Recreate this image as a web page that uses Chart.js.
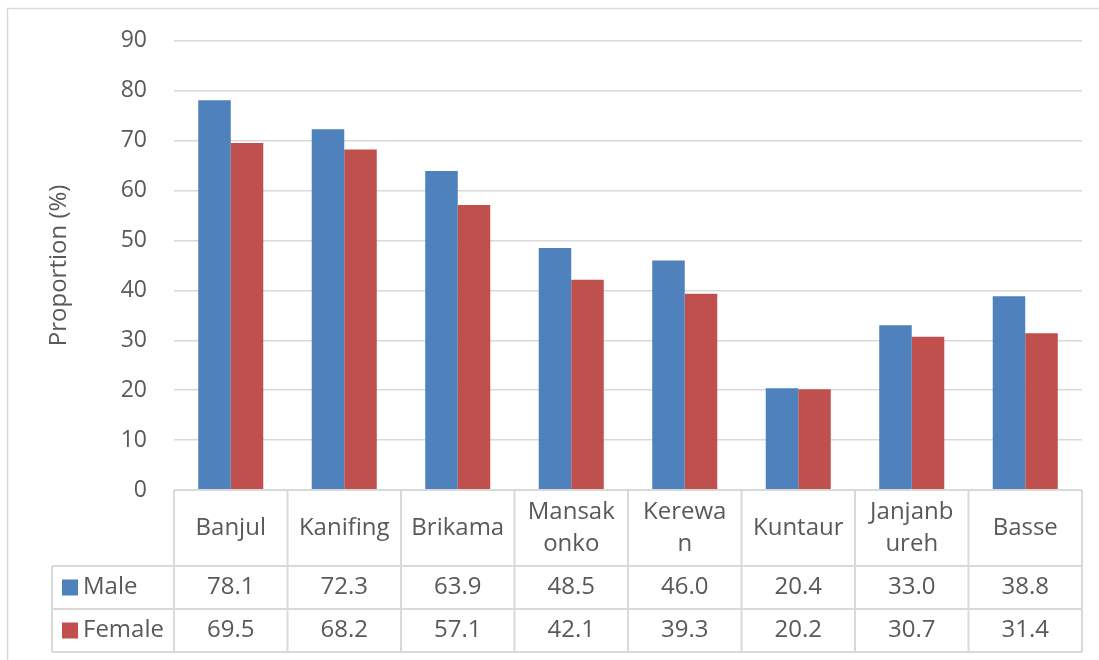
<!DOCTYPE html>
<html>
<head>
<meta charset="utf-8">
<script src="https://cdn.jsdelivr.net/npm/chart.js@4/dist/chart.umd.min.js"></script>
<style>
  html, body { margin: 0; padding: 0; background: #fff; }
  #wrap { width: 1099px; height: 660px; position: relative; }
</style>
</head>
<body>
<div id="wrap"><canvas id="c" width="1099" height="660"></canvas></div>
<script>
// ---- data ----
const categories = ["Banjul", "Kanifing", "Brikama", "Mansakonko", "Kerewan", "Kuntaur", "Janjanbureh", "Basse"];
const categoryLines = [["Banjul"], ["Kanifing"], ["Brikama"], ["Mansak", "onko"], ["Kerewa", "n"], ["Kuntaur"], ["Janjanb", "ureh"], ["Basse"]];
const maleValues = [78.1, 72.3, 63.9, 48.5, 46.0, 20.4, 33.0, 38.8];
const femaleValues = [69.5, 68.2, 57.1, 42.1, 39.3, 20.2, 30.7, 31.4];
const seriesNames = ["Male", "Female"];
const yTicks = [0, 10, 20, 30, 40, 50, 60, 70, 80, 90];
const yTitle = "Proportion (%)";

const BLUE = "#4F81BD", RED = "#C0504D", GRID = "#D9D9D9", TXT = "#595959";
const FONT = "'Open Sans', 'Liberation Sans', sans-serif";

const tablePlugin = {
  id: "dataTable",
  afterDraw(chart) {
    const ctx = chart.ctx;
    const xs = chart.scales.x;
    const area = chart.chartArea;
    const n = categories.length;
    const cw = (xs.right - xs.left) / n;
    const top = area.bottom;
    const hdrH = 76, rowH = 43;
    const r1 = top + hdrH, r2 = r1 + rowH, r3 = r2 + rowH;
    const legL = 52;
    ctx.save();
    // outer chart border (partly outside the picture)
    ctx.strokeStyle = GRID;
    ctx.lineWidth = 1.5;
    ctx.beginPath();
    ctx.moveTo(7.5, 700); ctx.lineTo(7.5, 8.5); ctx.lineTo(1110, 8.5);
    ctx.stroke();
    // table lines
    ctx.lineWidth = 2;
    ctx.beginPath();
    ctx.moveTo(xs.left, top); ctx.lineTo(xs.right, top);
    [r1, r2, r3].forEach(y => { ctx.moveTo(legL, y); ctx.lineTo(xs.right, y); });
    ctx.moveTo(legL, r1); ctx.lineTo(legL, r3);
    for (let i = 0; i <= n; i++) {
      const x = xs.left + i * cw;
      ctx.moveTo(x, top); ctx.lineTo(x, r3);
    }
    ctx.stroke();
    // header labels
    ctx.fillStyle = TXT;
    ctx.font = "24px " + FONT;
    ctx.textAlign = "center";
    ctx.textBaseline = "middle";
    const lh = 32;
    categoryLines.forEach((lines, i) => {
      const cx = xs.getPixelForValue(i);
      const cy = top + hdrH / 2;
      const y0 = cy - (lines.length - 1) * lh / 2;
      lines.forEach((t, k) => ctx.fillText(t, cx, y0 + k * lh));
    });
    // rows
    const rows = [[seriesNames[0], maleValues, BLUE, r1], [seriesNames[1], femaleValues, RED, r2]];
    rows.forEach(([name, vals, col, ry]) => {
      const cy = ry + rowH / 2;
      ctx.fillStyle = col;
      ctx.fillRect(62, cy - 8, 16, 16);
      ctx.fillStyle = TXT;
      ctx.textAlign = "left";
      ctx.fillText(name, 83, cy);
      ctx.textAlign = "center";
      vals.forEach((v, i) => ctx.fillText(v.toFixed(1), xs.getPixelForValue(i), cy));
    });
    ctx.restore();
  }
};

new Chart(document.getElementById("c"), {
  type: "bar",
  data: {
    labels: categories,
    datasets: [
      { label: seriesNames[0], data: maleValues, backgroundColor: BLUE, borderWidth: 0 },
      { label: seriesNames[1], data: femaleValues, backgroundColor: RED, borderWidth: 0 }
    ]
  },
  options: {
    responsive: false,
    animation: false,
    devicePixelRatio: 1,
    layout: { padding: { top: 38, right: 17, bottom: 170, left: 0 } },
    plugins: { legend: { display: false }, tooltip: { enabled: false } },
    datasets: { bar: { categoryPercentage: 0.573, barPercentage: 1.0 } },
    scales: {
      x: { display: false },
      y: {
        min: 0, max: 90,
        afterFit(s) { s.width = 174; },
        afterBuildTicks(s) { s.ticks = yTicks.map(v => ({ value: v })); },
        border: { display: false },
        grid: { color: GRID, lineWidth: 1.5, drawTicks: false },
        ticks: { color: TXT, padding: 27, font: { family: FONT, size: 23 } },
        title: { display: true, text: yTitle, color: TXT, font: { family: FONT, size: 24 }, padding: { top: 45, bottom: 0 } }
      }
    }
  },
  plugins: [tablePlugin]
});
</script>
</body>
</html>
